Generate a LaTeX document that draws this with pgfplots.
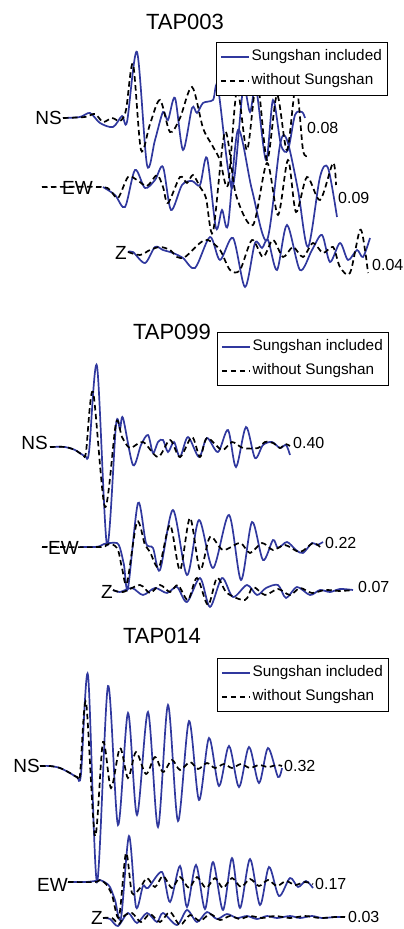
\documentclass[border=0pt]{standalone}
\usepackage{fontspec}
\setmainfont{Liberation Sans}
\usepackage{pgfplots}
\pgfplotsset{compat=1.18}

\definecolor{trace}{RGB}{48,56,158}

\newcommand{\titlefont}{\fontsize{22}{26}\selectfont}
\newcommand{\compfont}{\fontsize{19}{22}\selectfont}
\newcommand{\ampfont}{\fontsize{16}{19}\selectfont}

\tikzset{
  comp/.style={anchor=east, inner sep=0pt, font=\compfont},
  amp/.style={anchor=west, inner sep=0pt, font=\ampfont},
  stn/.style={inner sep=0pt, font=\titlefont},
}

\pgfplotsset{
  panel/.style={
    at={(0pt,0pt)}, anchor=south west,
    x=1pt, y=1pt, xmin=0, xmax=404, ymin=0, ymax=929, y dir=reverse,
    hide axis, clip=false,
    legend cell align=left,
    legend image code/.code={\draw[##1] (0pt,0pt) -- (28pt,0pt);},
    legend style={anchor=north west, draw=black, fill=white, line width=0.9pt,
      font=\fontsize{15.3}{18}\selectfont, inner xsep=3.5pt, inner ysep=5pt,
      row sep=5pt, nodes={inner sep=2pt, text height=11.5pt, text depth=3.5pt}},
  },
  incl/.style={color=trace, line width=1.7pt, smooth},
  without/.style={color=black, line width=1.7pt, dash pattern=on 5.5pt off 3.5pt, smooth},
}

\begin{document}
\begin{tikzpicture}
\useasboundingbox (0pt,0pt) rectangle (404pt,929pt);

% ---------------- TAP003 ----------------
\begin{axis}[panel, legend style={at={(axis cs:216,42)}}]
\addplot[incl] coordinates {(63,118)(80,117)(90,113)(100,123)(113,127)(122,116)(127,122)(137,52)(147,165)(155,140)(163,112)(168,120)(175,98)(183,150)(192,108)(197,113)(203,103)(213,100)(218,88)(232,188)(243,90)(250,112)(256,88)(266,160)(273,100)(281,145)(288,150)(295,115)(302,112)(305,118)};
\addlegendentry{Sungshan included}
\addplot[incl, forget plot] coordinates {(103,187)(115,195)(125,207)(135,170)(145,188)(155,180)(163,167)(171,210)(182,185)(192,181)(200,185)(207,158)(216,228)(222,210)(228,225)(238,130)(252,190)(267,240)(280,145)(287,140)(298,190)(308,247)(320,177)(328,168)(337,217)};
\addplot[incl, forget plot] coordinates {(128,252)(133,252)(145,263)(155,247)(163,250)(173,253)(183,258)(195,268)(210,237)(220,260)(233,238)(245,287)(255,243)(262,248)(268,240)(277,270)(287,225)(300,270)(312,250)(322,235)(330,262)(340,243)(348,260)(357,250)(363,257)(370,238)};
\addplot[without] coordinates {(63,118)(85,117)(95,114)(103,122)(112,118)(120,121)(126,110)(133,64)(141,150)(150,124)(160,100)(170,132)(180,118)(192,87)(203,128)(212,145)(220,160)(228,185)(237,90)(247,150)(257,80)(267,160)(277,95)(287,150)(296,85)(303,150)(308,155)};
\addlegendentry{without Sungshan}
\addplot[without, forget plot] coordinates {(42,187)(100,187)(110,190)(118,198)(128,177)(137,180)(147,186)(157,175)(163,187)(168,203)(180,177)(187,183)(193,175)(200,187)(206,198)(213,232)(225,132)(236,195)(253,225)(267,163)(278,215)(288,160)(296,212)(307,177)(320,200)(333,163)(336,185)};
\addplot[without, forget plot] coordinates {(128,252)(140,255)(150,250)(160,247)(170,250)(177,257)(185,257)(200,243)(208,240)(220,250)(230,270)(240,270)(252,240)(263,257)(273,240)(283,257)(293,247)(303,257)(313,243)(323,253)(333,247)(340,267)(350,273)(360,230)(365,250)(368,273)};
\node[stn] at (axis cs:185,22) {TAP003};
\node[comp] at (axis cs:62,118) {NS};
\node[comp] at (axis cs:93,188) {EW};
\node[comp] at (axis cs:127,253) {Z};
\node[amp] at (axis cs:307,128) {0.08};
\node[amp] at (axis cs:338,198) {0.09};
\node[amp] at (axis cs:372,265) {0.04};
\end{axis}

% ---------------- TAP099 ----------------
\begin{axis}[panel, legend style={at={(axis cs:217,332)}}]
\addplot[incl] coordinates {(50,447)(65,447)(75,450)(85,456)(89,452)(97,366)(107,545)(116,425)(120,429)(123,418)(133,465)(141,445)(148,435)(153,453)(158,442)(163,440)(168,452)(174,442)(180,457)(188,437)(199,457)(207,438)(218,452)(228,430)(236,467)(246,427)(255,458)(263,445)(272,442)(280,448)(286,445)(290,455)};
\addlegendentry{Sungshan included}
\addplot[incl, forget plot] coordinates {(80,547)(95,547)(100,546)(104,544)(110,543)(117,543)(120,548)(124,565)(128,588)(138,503)(146,543)(153,548)(160,570)(173,510)(187,575)(199,520)(213,568)(229,515)(241,580)(252,522)(263,560)(273,540)(278,548)(287,542)(296,550)(303,553)(312,543)(317,545)(323,542)};
\addplot[incl, forget plot] coordinates {(113,590)(120,592)(132,588)(143,595)(155,588)(167,593)(177,587)(187,602)(200,578)(210,607)(222,578)(233,597)(247,585)(257,595)(266,588)(278,585)(286,598)(297,587)(310,595)(320,590)(330,592)(340,589)(353,590)};
\addplot[without] coordinates {(50,447)(65,447)(75,450)(83,455)(86,452)(93,392)(105,507)(116,423)(122,437)(130,448)(143,442)(158,457)(170,440)(180,457)(192,437)(200,457)(207,438)(222,450)(232,442)(243,448)(258,448)(265,442)(273,443)(280,448)(285,444)(290,446)};
\addlegendentry{without Sungshan}
\addplot[without, forget plot] coordinates {(42,547)(100,547)(106,545)(112,544)(118,550)(122,568)(127,583)(137,522)(145,545)(150,552)(159,567)(170,525)(180,570)(190,518)(200,570)(210,537)(223,550)(240,543)(250,553)(262,543)(273,550)(285,545)(300,552)(313,543)(320,547)};
\addplot[without, forget plot] coordinates {(113,590)(123,592)(140,585)(150,593)(160,585)(170,592)(178,585)(188,600)(197,578)(208,605)(217,578)(227,593)(245,600)(253,587)(265,595)(278,589)(290,595)(300,588)(312,593)(325,590)(340,591)(353,590)};
\node[stn] at (axis cs:172,332) {TAP099};
\node[comp] at (axis cs:48,443) {NS};
\node[comp] at (axis cs:79,548) {EW};
\node[comp] at (axis cs:113,592) {Z};
\node[amp] at (axis cs:293,443) {0.40};
\node[amp] at (axis cs:325,543) {0.22};
\node[amp] at (axis cs:358,587) {0.07};
\end{axis}

% ---------------- TAP014 ----------------
\begin{axis}[panel, legend style={at={(axis cs:217,658)}}]
\addplot[incl] coordinates {(40,766)(50,766)(60,768)(70,773)(77,777)(81,774)(88,675)(97,882)(108,686)(118,825)(128,713)(137,815)(148,712)(158,827)(168,705)(178,821)(189,721)(199,800)(209,738)(219,786)(229,746)(239,787)(249,747)(259,783)(268,748)(278,777)(282,768)};
\addlegendentry{Sungshan included}
\addplot[incl, forget plot] coordinates {(68,882)(85,882)(95,881)(100,880)(106,883)(110,887)(115,900)(121,918)(129,836)(136,907)(143,886)(148,888)(162,872)(170,902)(180,866)(187,907)(196,865)(205,909)(213,862)(223,910)(232,858)(240,908)(250,859)(260,905)(269,867)(279,896)(290,878)(298,887)(306,881)(313,888)};
\addplot[incl, forget plot] coordinates {(103,918)(110,919)(118,926)(128,913)(137,923)(147,913)(157,922)(163,913)(177,925)(187,910)(197,922)(207,912)(217,919)(227,914)(237,918)(247,916)(257,919)(267,916)(277,918)(290,916)(300,918)(312,916)(322,918)(335,917)(345,917)};
\addplot[without] coordinates {(40,766)(50,766)(60,768)(70,773)(77,777)(80,775)(86,702)(95,836)(103,742)(111,788)(120,748)(128,778)(136,752)(146,774)(155,757)(163,772)(172,760)(180,770)(190,762)(198,769)(207,763)(215,768)(224,764)(232,768)(241,764)(250,768)(259,765)(268,767)(277,765)(282,766)};
\addlegendentry{without Sungshan}
\addplot[without, forget plot] coordinates {(68,882)(95,882)(100,880)(106,884)(112,895)(119,917)(126,853)(132,893)(140,888)(147,878)(155,887)(163,876)(172,888)(180,877)(189,888)(197,877)(206,888)(215,878)(223,888)(232,878)(241,887)(250,879)(259,886)(268,880)(277,886)(286,881)(295,885)(305,882)(313,884)};
\addplot[without, forget plot] coordinates {(103,918)(112,918)(119,924)(124,916)(132,913)(141,922)(150,914)(160,922)(170,912)(180,925)(190,915)(200,921)(210,914)(220,920)(230,916)(240,919)(250,916)(262,918)(275,916)(290,918)(305,916)(320,918)(335,917)(345,917)};
\node[stn] at (axis cs:162,636) {TAP014};
\node[comp] at (axis cs:40,766) {NS};
\node[comp] at (axis cs:68,885) {EW};
\node[comp] at (axis cs:103,918) {Z};
\node[amp] at (axis cs:284,766) {0.32};
\node[amp] at (axis cs:315,884) {0.17};
\node[amp] at (axis cs:348,917) {0.03};
\end{axis}
\end{tikzpicture}
\end{document}
